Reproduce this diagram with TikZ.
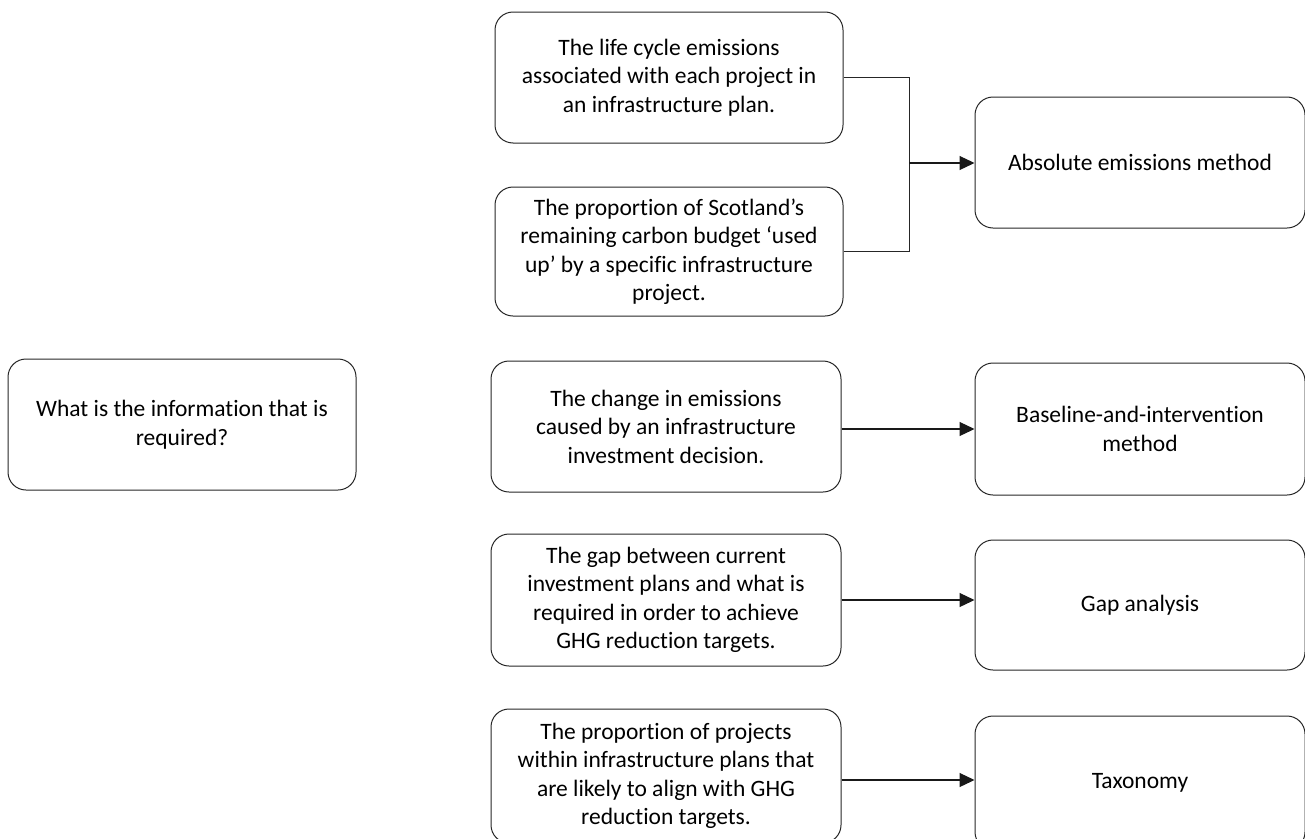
\documentclass[tikz,border=0pt]{standalone}
\usepackage{fontspec}
\setmainfont[Ligatures={NoCommon,NoContextual}]{Carlito}
\usetikzlibrary{arrows.meta}
\begin{document}
\begin{tikzpicture}[x=1pt,y=-1pt,
  box/.style={draw=black!85, line width=1pt, rounded corners=18pt, inner sep=0pt,
    align=center, font=\fontsize{23.5}{28.5}\selectfont},
  arr/.style={line width=1.2pt, draw=black!90, -{Triangle[length=15pt,width=14pt]}},
  lnk/.style={line width=1pt, draw=black!85}]
\useasboundingbox (0,0) rectangle (1305,838);
\clip (0,0) rectangle (1305,838);
% question
\node[box, minimum width=348pt, minimum height=131pt] (q) at (182,424.5)
  {What is the information that is\\required?};
% information boxes
\node[box, minimum width=348pt, minimum height=131pt] (a1) at (669,77.5)
  {The life cycle emissions\\associated with each project in\\an infrastructure plan.};
\node[box, minimum width=348pt, minimum height=129pt] (a2) at (669,251.5)
  {The proportion of Scotland’s\\remaining carbon budget ‘used\\up’ by a specific infrastructure\\project.};
\node[box, minimum width=350pt, minimum height=131pt] (b) at (666,426.5)
  {The change in emissions\\caused by an infrastructure\\investment decision.};
\node[box, minimum width=350pt, minimum height=132pt] (g) at (666,600)
  {The gap between current\\investment plans and what is\\required in order to achieve\\GHG reduction targets.};
\node[box, minimum width=350pt, minimum height=134pt] (ts) at (666,776)
  {The proportion of projects\\within infrastructure plans that\\are likely to align with GHG\\reduction targets.};
% methods
\node[box, minimum width=330pt, minimum height=131pt] (abs) at (1140,162.5)
  {Absolute emissions method};
\node[box, minimum width=330pt, minimum height=132pt] (base) at (1140,429)
  {Baseline-and-intervention\\method};
\node[box, minimum width=330pt, minimum height=130pt] (gapa) at (1140,605)
  {Gap analysis};
\node[box, minimum width=330pt, minimum height=134pt] (tax) at (1140,783)
  {Taxonomy};
% connectors
\coordinate (j) at (909,163);
\draw[lnk] (a1.east) -| (j);
\draw[lnk] (a2.east) -| (j);
\draw[arr] (j) -- (j -| abs.west);
\draw[arr] (b.east |- base.west) -- (base.west);
\draw[arr] (g.east) -- (g.east -| gapa.west);
\draw[arr] ([yshift=-4pt]ts.east) -- ([yshift=-4pt]ts.east -| tax.west);
\end{tikzpicture}
\end{document}
